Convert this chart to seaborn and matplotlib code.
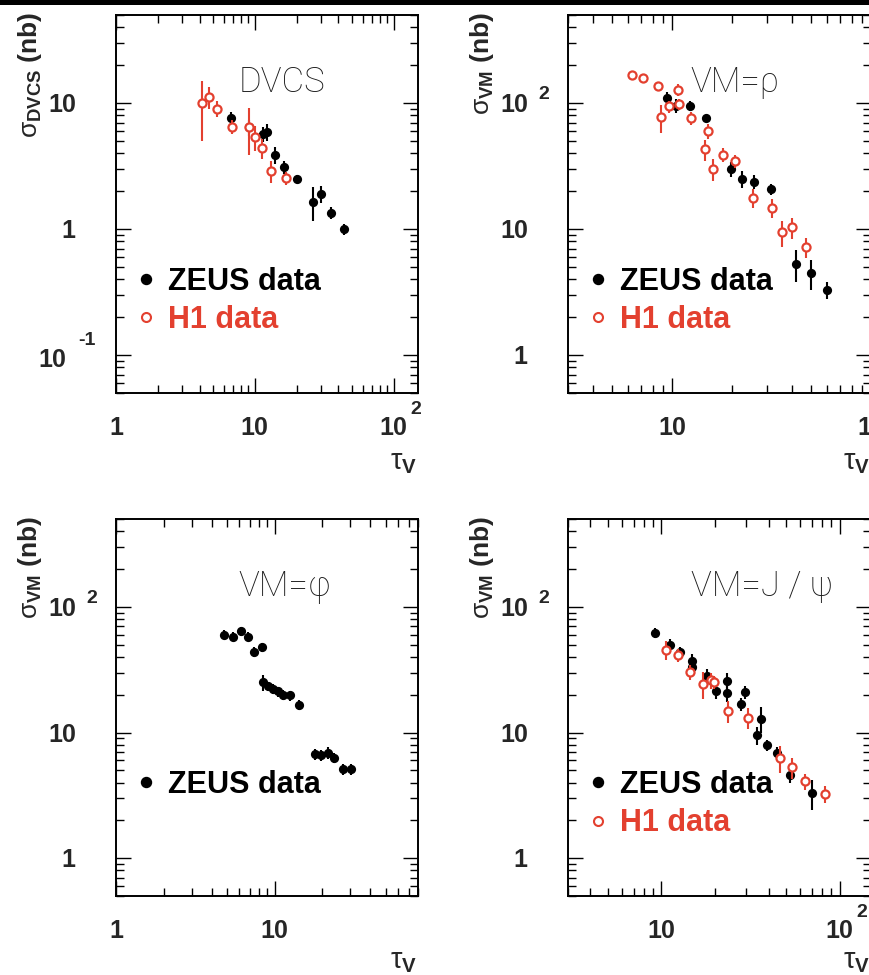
import numpy as np
import pandas as pd
import matplotlib
matplotlib.use("Agg")
import matplotlib.pyplot as plt
from matplotlib.patches import Rectangle
from matplotlib.ticker import LogLocator, NullFormatter
import seaborn as sns

# ---------------- data ----------------
# DVCS
dvcs_zeus_x = [6.7, 9.1, 11.5, 12.3, 13.9, 16.2, 20.3, 26.3, 30.2, 35.2, 43.7]
dvcs_zeus_y = [7.6, 6.4, 5.7, 5.9, 3.9, 3.1, 2.5, 1.65, 1.9, 1.35, 1.0]
dvcs_zeus_e = [0.9, 0.9, 0.8, 0.9, 0.6, 0.35, 0.2, 0.5, 0.3, 0.15, 0.1]
dvcs_h1_x = [4.15, 4.7, 5.3, 6.9, 9.1, 10.1, 11.3, 13.0, 16.7]
dvcs_h1_y = [10.0, 11.1, 9.0, 6.5, 6.5, 5.4, 4.4, 2.9, 2.55]
dvcs_h1_e = [5.0, 2.2, 1.3, 0.8, 2.6, 1.2, 0.8, 0.6, 0.3]

# rho
rho_zeus_x = [9.4, 10.5, 12.3, 14.8, 19.9, 22.5, 25.8, 31.3, 42.0, 50.0, 60.0]
rho_zeus_y = [110, 95, 95, 76, 30, 25, 23.7, 20.8, 5.3, 4.5, 3.3]
rho_zeus_e = [12, 12, 8, 5, 4, 4, 3, 2, 1.5, 1.2, 0.5]
rho_h1_x = [6.27, 7.17, 8.53, 8.8, 9.7, 10.7, 10.9, 12.4, 15.1, 14.6, 16.1, 18.1,
            20.8, 25.4, 31.8, 35.6, 40.3, 47.0]
rho_h1_y = [167, 159, 136, 77, 94, 127, 98, 76, 60, 43, 30, 39,
            34.6, 17.8, 14.8, 9.4, 10.3, 7.2]
rho_h1_e = [8, 8, 8, 19, 10, 14, 10, 9, 8, 8, 6, 5,
            4, 3, 2.5, 2.2, 2.0, 1.3]

# phi
phi_zeus_x = [4.8, 5.5, 6.1, 6.8, 7.4, 8.3, 8.4, 9.1, 9.8, 10.5, 11.3, 12.4, 14.2,
              17.9, 19.7, 21.6, 23.8, 26.9, 30.1]
phi_zeus_y = [60, 58, 64, 58, 44, 48, 25, 23.3, 22.3, 21.2, 19.8, 19.7, 16.7,
              6.7, 6.6, 6.9, 6.3, 5.1, 5.1]
phi_zeus_e = [5, 5, 5, 5, 4, 4, 3.5, 2, 2, 2, 1.8, 1.8, 1.6,
              0.7, 0.7, 0.7, 0.6, 0.5, 0.5]

# J/psi
jpsi_zeus_x = [9.2, 11.2, 12.7, 14.8, 14.8, 18.0, 20.3, 23.3, 23.3, 28.0, 29.6,
               36.4, 34.4, 39.4, 44.6, 53.0, 70.0]
jpsi_zeus_y = [62, 50, 44, 37, 33, 28, 21.5, 25.5, 20.6, 16.9, 21,
               12.9, 9.5, 7.9, 6.9, 4.6, 3.3]
jpsi_zeus_e = [6, 5, 4, 5, 4, 4, 3, 4, 3, 2, 2.5,
               3, 1.5, 0.8, 0.8, 0.6, 0.9]
jpsi_h1_x = [10.6, 12.4, 14.5, 17.2, 19.0, 19.8, 23.8, 30.8, 46.5, 54.0, 64.0, 83.0]
jpsi_h1_y = [45.6, 41.6, 30.3, 24.4, 26.0, 25.0, 14.8, 13.1, 6.3, 5.3, 4.1, 3.25]
jpsi_h1_e = [8, 5, 4, 6, 4, 3, 3, 2.5, 1.5, 1.0, 0.6, 0.5]

# ---------------- style ----------------
sns.set_theme(style="ticks")
plt.rcParams.update({
    "font.family": ["Liberation Sans", "DejaVu Sans"],
    "mathtext.fontset": "custom",
    "mathtext.rm": "Liberation Sans",
    "mathtext.it": "Liberation Sans:italic",
    "mathtext.bf": "Liberation Sans:bold",
    "axes.linewidth": 1.4,
})

RED = "#e3402f"
GREY = "#1c1c1c"
PX = 72.0 / 100.0  # points per pixel at dpi=100

fig = plt.figure(figsize=(8.69, 9.75), dpi=100)
fig.patches.append(Rectangle((0, 1 - 5 / 975), 1, 5 / 975, transform=fig.transFigure,
                             facecolor="black", edgecolor="none", zorder=10))


def txt(ax, s, xy, coords, off, **kw):
    ax.annotate(s, xy=xy, xycoords=coords, xytext=off, textcoords="offset pixels",
                annotation_clip=False, **kw)


def ylabel_tick(ax, val, base, sup=None, base_dx=-40, base_dy=0, sup_dx=-30, sup_dy=11):
    txt(ax, base, (0, val), ("axes fraction", "data"), (base_dx, base_dy - 9),
        ha="right", va="baseline", fontsize=18, fontweight="bold")
    if sup:
        txt(ax, sup, (0, val), ("axes fraction", "data"), (sup_dx, base_dy + sup_dy - 7),
            ha="left", va="baseline", fontsize=14, fontweight="bold")


def xlabel_tick(ax, val, base, sup=None):
    txt(ax, base, (val, 0), ("data", "axes fraction"), (0, -42),
        ha="center", va="baseline", fontsize=18, fontweight="bold")
    if sup:
        txt(ax, sup, (val, 0), ("data", "axes fraction"), (17, -21),
            ha="left", va="baseline", fontsize=14, fontweight="bold")


def panel(rect, xlim, ylim, zeus, h1, label, ytitle, xticks, yticks, tau_dy=-69):
    ax = fig.add_axes(rect)
    ax.set_xscale("log")
    ax.set_yscale("log")

    zx, zy, ze = zeus
    ax.errorbar(zx, zy, yerr=ze, fmt="none", ecolor="black", elinewidth=1.5,
                capsize=0, zorder=2)
    sns.scatterplot(x=zx, y=zy, ax=ax, color="black", s=44, linewidth=0,
                    marker="o", zorder=3)
    if h1 is not None:
        hx, hy, he = h1
        ax.errorbar(hx, hy, yerr=he, fmt="none", ecolor=RED, elinewidth=1.5,
                    capsize=0, zorder=4)
        sns.scatterplot(x=hx, y=hy, ax=ax, color="white", edgecolor=RED,
                        s=34, linewidth=1.6, marker="o", zorder=5)

    ax.set_xlim(*xlim)
    ax.set_ylim(*ylim)
    ax.set_xlabel("")
    ax.set_ylabel("")

    for axis in (ax.xaxis, ax.yaxis):
        axis.set_major_locator(LogLocator(base=10, numticks=12))
        axis.set_minor_locator(LogLocator(base=10, subs=np.arange(2, 10), numticks=30))
        axis.set_minor_formatter(NullFormatter())
    ax.tick_params(which="major", direction="in", length=15 * PX, width=1.0,
                   top=True, right=True, labelleft=False, labelbottom=False,
                   color="black")
    ax.tick_params(which="minor", direction="in", length=8 * PX, width=1.0,
                   top=True, right=True, color="black")
    for sp in ax.spines.values():
        sp.set_color("black")
        sp.set_linewidth(1.4)

    # process label
    ax.text(0.405, 0.795, label, transform=ax.transAxes, ha="left", va="baseline",
            fontsize=25, color=GREY, family=["Roboto", "DejaVu Sans"],
            fontweight="light")

    # legend
    ax.plot([0.10], [0.302], transform=ax.transAxes, marker="o", ms=10 * PX,
            color="black", linestyle="none", clip_on=False)
    ax.text(0.172, 0.272, "ZEUS data", transform=ax.transAxes, ha="left",
            va="baseline", fontsize=22, fontweight="bold", color="black")
    if h1 is not None:
        ax.plot([0.10], [0.200], transform=ax.transAxes, marker="o", ms=9 * PX,
                mfc="white", mec=RED, mew=1.5, linestyle="none", clip_on=False)
        ax.text(0.172, 0.173, "H1 data", transform=ax.transAxes, ha="left",
                va="baseline", fontsize=22, fontweight="bold", color=RED)

    # axis titles
    txt(ax, ytitle, (0, 1), "axes fraction", (-86, 3), rotation=90, ha="center",
        va="top", fontsize=19, fontweight="bold")
    txt(ax, r"$\mathrm{\tau}_{\mathbf{V}}$", (1, 0), "axes fraction", (-1, tau_dy),
        ha="right", va="center", fontsize=21)

    for args in xticks:
        xlabel_tick(ax, *args)
    for args in yticks:
        ylabel_tick(ax, *args)
    return ax


L1, L2 = 116 / 869, 568 / 869
B1, B2 = 1 - 393 / 975, 1 - 896 / 975
W1, W2 = 302 / 869, 303 / 869
H1, H2 = 378 / 975, 377 / 975

sig_dvcs = r"$\mathrm{\sigma}_{\mathbf{DVCS}}$ (nb)"
sig_vm = r"$\mathrm{\sigma}_{\mathbf{VM}}$ (nb)"

panel([L1, B1, W1, H1], (1, 150), (0.05, 50),
      (dvcs_zeus_x, dvcs_zeus_y, dvcs_zeus_e), (dvcs_h1_x, dvcs_h1_y, dvcs_h1_e),
      "DVCS", sig_dvcs,
      [(1, "1"), (10, "10"), (100, "10", "2")],
      [(10, "10"), (1, "1", None, -41),
       (0.1, "10", "-1", -50, -3, -38, 20)])

panel([L2, B1, W2, H1], (3, 100), (0.5, 500),
      (rho_zeus_x, rho_zeus_y, rho_zeus_e), (rho_h1_x, rho_h1_y, rho_h1_e),
      "VM=ρ", sig_vm,
      [(10, "10"), (100, "10", "2")],
      [(100, "10", "2"), (10, "10"), (1, "1", None, -41)])

panel([L1, B2, W1, H2], (1, 80), (0.5, 500),
      (phi_zeus_x, phi_zeus_y, phi_zeus_e), None,
      "VM=φ", sig_vm,
      [(1, "1"), (10, "10")],
      [(100, "10", "2"), (10, "10"), (1, "1", None, -41)], tau_dy=-65)

panel([L2, B2, W2, H2], (3, 150), (0.5, 500),
      (jpsi_zeus_x, jpsi_zeus_y, jpsi_zeus_e), (jpsi_h1_x, jpsi_h1_y, jpsi_h1_e),
      "VM=J / ψ", sig_vm,
      [(10, "10"), (100, "10", "2")],
      [(100, "10", "2"), (10, "10"), (1, "1", None, -41)], tau_dy=-65)

fig.savefig("out.png", dpi=100, facecolor="white")
